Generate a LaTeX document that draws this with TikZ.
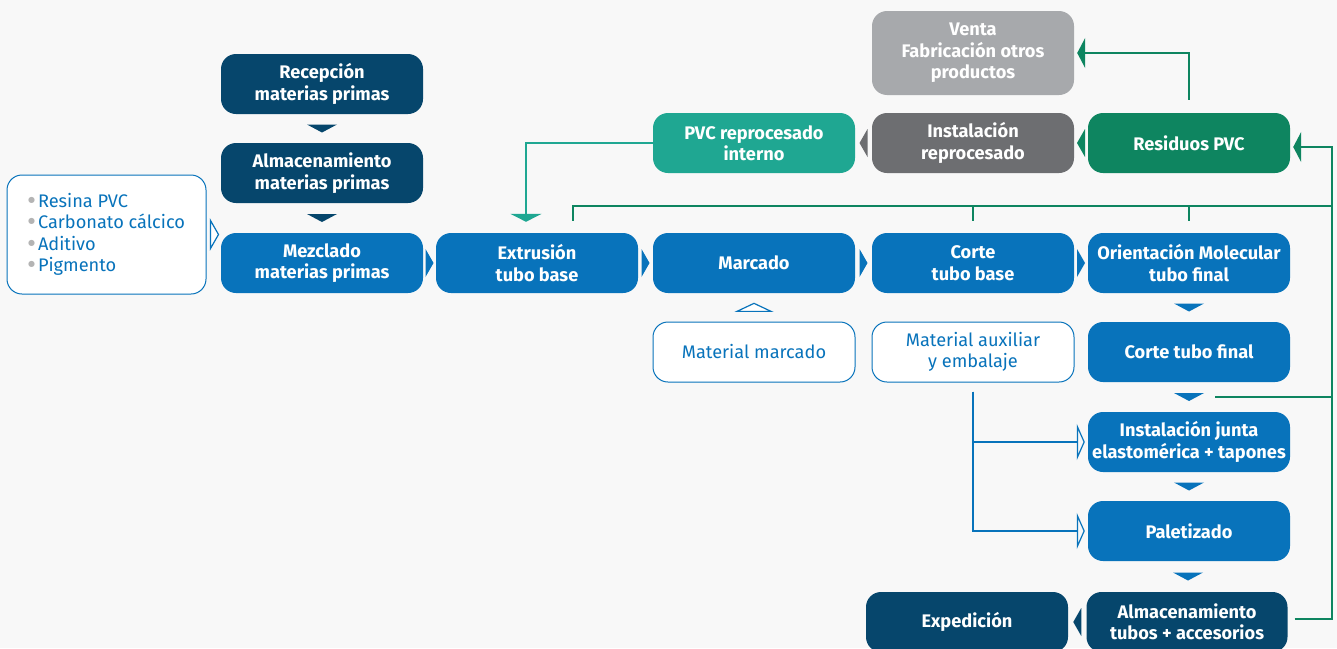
\documentclass[tikz,border=0pt]{standalone}
\usepackage{fontspec}
\setmainfont{Fira Sans}
\newfontfamily\simbolo{DejaVu Sans}
\usetikzlibrary{calc,arrows.meta}
\definecolor{fondo}{HTML}{F8F8F8}
\definecolor{navy}{HTML}{06466C}
\definecolor{azul}{HTML}{0873BB}
\definecolor{verde}{HTML}{0E8560}
\definecolor{turquesa}{HTML}{1FA792}
\definecolor{grisosc}{HTML}{6D6E71}
\definecolor{grisclaro}{HTML}{A7A9AC}
\definecolor{bala}{HTML}{B4B4B4}
\newcommand{\bala}{{\color{bala}\raisebox{0.55ex}{\simbolo\fontsize{8}{8}\selectfont ●}}\hspace{3pt}}
\tikzset{
  proc/.style={rounded corners=15pt, minimum width=202pt, minimum height=60pt, inner sep=0pt,
    align=center, text=white, font=\bfseries\fontsize{18.2}{21.5}\selectfont},
  insumo/.style={proc, draw=azul, line width=1pt, fill=white, text=azul,
    font=\fontsize{18.2}{21.5}\selectfont},
  tri down/.pic={\fill (-15,-4) -- (15,-4) -- (0,4) -- cycle;},
  tri right/.pic={\fill (-4,-14) -- (4,0) -- (-4,14) -- cycle;},
  tri left/.pic={\fill (4,-14) -- (-4,0) -- (4,14) -- cycle;},
  linea verde/.style={draw=verde, line width=2pt},
  linea azul/.style={draw=azul, line width=1.2pt}
}
\begin{document}
\begin{tikzpicture}[x=1pt,y=-1pt]
    \useasboundingbox (0,0) rectangle (1337,648);
    \fill[fondo] (0,0) rectangle (1337,648);
    \clip (0,0) rectangle (1337,648);

    % Materias primas
    \node[proc, fill=navy] (rec) at (322,84) {Recepción\\materias primas};
    \node[proc, fill=navy] (alm) at (322,173) {Almacenamiento\\materias primas};
    \node[proc, fill=azul] (mez) at (322,263) {Mezclado\\materias primas};
    \node[insumo, minimum width=199pt, minimum height=119pt, align=left] (lista) at (106.5,234.5)
        {\bala Resina PVC\\ \bala Carbonato cálcico\\ \bala Aditivo\\ \bala Pigmento};

    % Linea principal
    \node[proc, fill=azul] (ext) at (537,263) {Extrusión\\tubo base};
    \node[proc, fill=azul] (mar) at (754,263) {Marcado};
    \node[proc, fill=azul] (cba) at (973,263) {Corte\\tubo base};
    \node[proc, fill=azul] (ori) at (1189,263) {Orientación Molecular\\tubo final};
    \node[proc, fill=azul] (cfi) at (1189,352) {Corte tubo final};
    \node[proc, fill=azul] (jun) at (1189,442) {Instalación junta\\elastomérica + tapones};
    \node[proc, fill=azul] (pal) at (1189,531) {Paletizado};
    \node[proc, fill=navy, minimum width=201pt] (atu) at (1187,622) {Almacenamiento\\tubos + accesorios};
    \node[proc, fill=navy] (exp) at (967,622) {Expedición};

    % Material auxiliar
    \node[insumo] (mmar) at (754,352) {Material marcado};
    \node[insumo] (maux) at (973,352) {Material auxiliar\\y embalaje};

    % Residuos
    \node[proc, fill=verde] (res) at (1189,143) {Residuos PVC};
    \node[proc, fill=grisosc] (irep) at (973,143) {Instalación\\reprocesado};
    \node[proc, fill=turquesa] (prep) at (754,143) {PVC reprocesado\\interno};
    \node[proc, fill=grisclaro, minimum height=84pt] (venta) at (973,53) {Venta\\Fabricación otros\\productos};

    % Flechas
    \pic[color=navy] at ($(rec.south)!.5!(alm.north)$) {tri down};
    \pic[color=navy] at ($(alm.south)!.5!(mez.north)$) {tri down};
    \pic[color=azul] at ($(mez.east)!.5!(ext.west)$) {tri right};
    \pic[color=azul] at ($(ext.east)!.5!(mar.west)$) {tri right};
    \pic[color=azul] at ($(mar.east)!.5!(cba.west)$) {tri right};
    \pic[color=azul] at ($(cba.east)!.5!(ori.west)$) {tri right};
    \pic[color=azul] at ($(ori.south)!.5!(cfi.north)$) {tri down};
    \pic[color=azul] at ($(cfi.south)!.5!(jun.north)$) {tri down};
    \pic[color=azul] at ($(jun.south)!.5!(pal.north)$) {tri down};
    \pic[color=azul] at ($(pal.south)!.5!(atu.north)$) {tri down};
    \pic[color=navy] at ($(atu.west)!.5!(exp.east)$) {tri left};
    \pic[color=verde] at ($(res.west)!.5!(irep.east)$) {tri left};
    \pic[color=grisosc] at ($(irep.west)!.5!(prep.east)$) {tri left};

    % Entradas abiertas
    \draw[linea azul, fill=white, shift={($(lista.east)+(8,0)$)}] (-4,-14) -- (4,0) -- (-4,14) -- cycle;
    \draw[linea azul, fill=white, shift={($(mmar.north)!.5!(mar.south)$)}] (-17,4) -- (0,-4) -- (17,4) -- cycle;
    \draw[linea azul, -{Triangle[open, width=36pt, length=8pt]}, shorten >=3pt]
        ($(maux.south)+(0,9)$) |- (jun.west);
    \draw[linea azul, -{Triangle[open, width=36pt, length=8pt]}, shorten >=3pt]
        ($(maux.south)+(0,9)$) |- (pal.west);

    % Retorno de residuos
    \draw[linea verde, -{Triangle[width=30pt, length=8pt]}, shorten >=3pt]
        ($(atu.east)+(7,-3)$) -| ($(res.east)+(42,4)$) -- ($(res.east)+(0,4)$);
    \draw[linea verde] ($(cfi.south)+(26,15)$) -- ++(117,0);
    \draw[linea verde] ($(ext.north)+(36,-12)$) |- ($(res.east)+(42,63)$);
    \draw[linea verde] ($(cba.north)+(0,-12)$) -- ++(0,-15);
    \draw[linea verde] ($(ori.north)+(0,-12)$) -- ++(0,-15);
    \draw[linea verde, -{Triangle[width=30pt, length=8pt]}, shorten >=3pt]
        ($(res.north)+(0,-13)$) |- (venta.east);
    \draw[draw=turquesa, line width=2pt, -{Triangle[width=31pt, length=8pt]}, shorten >=11pt]
        (prep.west) -| ($(ext.north)+(-11,0)$);
\end{tikzpicture}
\end{document}
